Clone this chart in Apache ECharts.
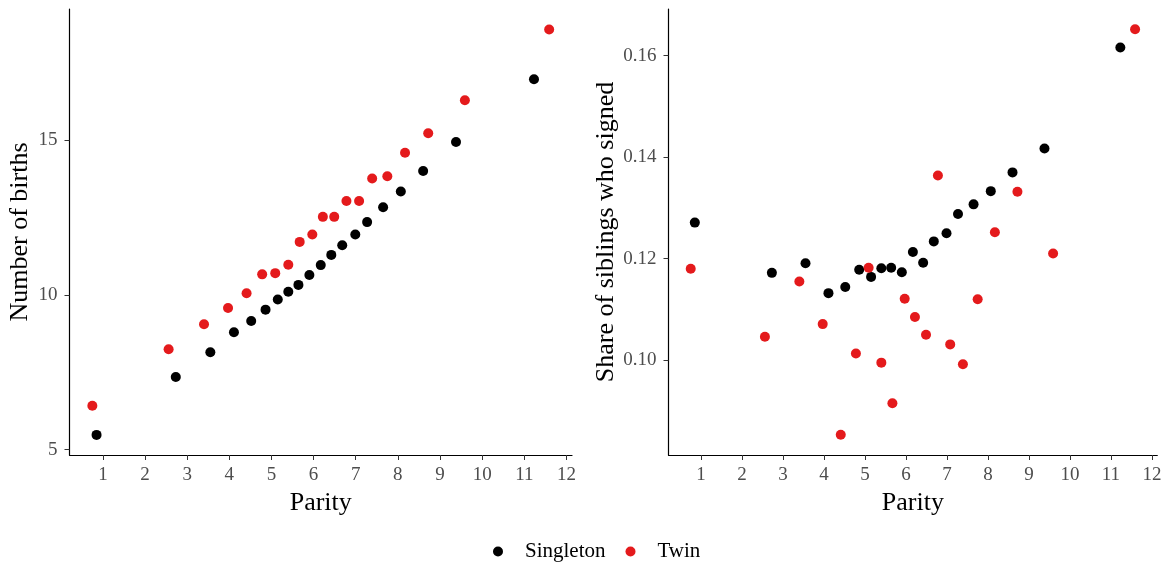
<!DOCTYPE html>
<html>
<head>
<meta charset="utf-8">
<title>Parity</title>
<script src="https://cdn.jsdelivr.net/npm/echarts@6/dist/echarts.min.js"></script>
<style>
  html, body { margin: 0; padding: 0; background: #fff; }
  #chart { width: 1167px; height: 567px; }
</style>
</head>
<body>
<div id="chart"></div>
<script>
// parity (dodged a little per group) and values
const paritySingleton = [0.85, 2.73, 3.55, 4.11, 4.52, 4.86, 5.15, 5.40, 5.64, 5.90, 6.17, 6.42, 6.68, 6.99, 7.27, 7.65, 8.07, 8.60, 9.38, 11.23]
const birthsSingleton = [5.48, 7.35, 8.15, 8.80, 9.16, 9.53, 9.86, 10.11, 10.33, 10.65, 10.97, 11.30, 11.61, 11.96, 12.36, 12.84, 13.35, 14.01, 14.95, 16.98]
const shareSingleton = [0.1271, 0.1172, 0.1191, 0.1132, 0.1144, 0.1178, 0.1164, 0.1181, 0.1182, 0.1173, 0.1213, 0.1192, 0.1234, 0.1250, 0.1288, 0.1307, 0.1333, 0.1370, 0.1417, 0.1616]

const parityTwin = [0.75, 2.56, 3.40, 3.97, 4.41, 4.78, 5.09, 5.40, 5.67, 5.97, 6.22, 6.49, 6.78, 7.08, 7.39, 7.75, 8.17, 8.72, 9.59, 11.59]
const birthsTwin = [6.42, 8.25, 9.06, 9.58, 10.06, 10.67, 10.71, 10.98, 11.72, 11.96, 12.53, 12.53, 13.04, 13.04, 13.77, 13.84, 14.60, 15.23, 16.30, 18.59]
const shareTwin = [0.1180, 0.1046, 0.1155, 0.1071, 0.0853, 0.1013, 0.1182, 0.0995, 0.0915, 0.1121, 0.1085, 0.1050, 0.1364, 0.1031, 0.0992, 0.1120, 0.1252, 0.1332, 0.1210, 0.1652]

const xTicks = [1, 2, 3, 4, 5, 6, 7, 8, 9, 10, 11, 12]
const birthsTicks = [5, 10, 15]
const shareTicks = [0.10, 0.12, 0.14, 0.16]

const font = 'Liberation Serif'
const zip = (xs, ys) => xs.map((x, i) => [x, ys[i]])

const xAxisBase = (gridIndex) => ({
  type: 'value',
  gridIndex,
  min: 0.208,
  max: 12.132,
  name: 'Parity',
  nameLocation: 'middle',
  nameGap: 25,
  nameTextStyle: { fontFamily: font, fontSize: 26, color: '#000' },
  axisLine: { lineStyle: { color: '#000', width: 1.2 } },
  axisTick: { show: true, length: 5, customValues: xTicks, lineStyle: { color: '#333' } },
  axisLabel: { customValues: xTicks, margin: 11, fontFamily: font, fontSize: 19, color: '#4d4d4d' },
  splitLine: { show: false }
})

const yAxisBase = (gridIndex, name, ticks, min, max, gap, fmt) => ({
  type: 'value',
  gridIndex,
  min,
  max,
  name,
  nameLocation: 'middle',
  nameRotate: 90,
  nameGap: gap,
  nameTextStyle: { fontFamily: font, fontSize: 26, color: '#000' },
  axisLine: { show: true, lineStyle: { color: '#000', width: 1.2 } },
  axisTick: { show: true, length: 5, customValues: ticks, lineStyle: { color: '#333' } },
  axisLabel: { customValues: ticks, margin: 12, fontFamily: font, fontSize: 19, color: '#4d4d4d', formatter: fmt },
  splitLine: { show: false }
})

const dot = (name, color, xIdx, data) => ({
  name,
  type: 'scatter',
  xAxisIndex: xIdx,
  yAxisIndex: xIdx,
  symbolSize: 10,
  itemStyle: { color, opacity: 1 },
  data,
  animation: false
})

const chart = echarts.init(document.getElementById('chart'))
chart.setOption({
  backgroundColor: '#fff',
  legend: {
    top: 536,
    left: 488,
    itemWidth: 10,
    itemHeight: 10,
    itemGap: 20,
    icon: 'circle',
    textStyle: { fontFamily: font, fontSize: 21, color: '#000', padding: [0, 0, 0, 17] },
    data: ['Singleton', 'Twin']
  },
  grid: [
    { left: 69.5, right: 595, top: 9, bottom: 112 },
    { left: 668.5, right: 9.7, top: 9, bottom: 112 }
  ],
  xAxis: [xAxisBase(0), xAxisBase(1)],
  yAxis: [
    yAxisBase(0, 'Number of births', birthsTicks, 4.83, 19.25, 36, v => String(v)),
    yAxisBase(1, 'Share of siblings who signed', shareTicks, 0.0813, 0.1692, 49, v => v.toFixed(2))
  ],
  series: [
    dot('Singleton', '#000000', 0, zip(paritySingleton, birthsSingleton)),
    dot('Twin', '#E41A1C', 0, zip(parityTwin, birthsTwin)),
    dot('Singleton', '#000000', 1, zip(paritySingleton, shareSingleton)),
    dot('Twin', '#E41A1C', 1, zip(parityTwin, shareTwin))
  ]
})
</script>
</body>
</html>
